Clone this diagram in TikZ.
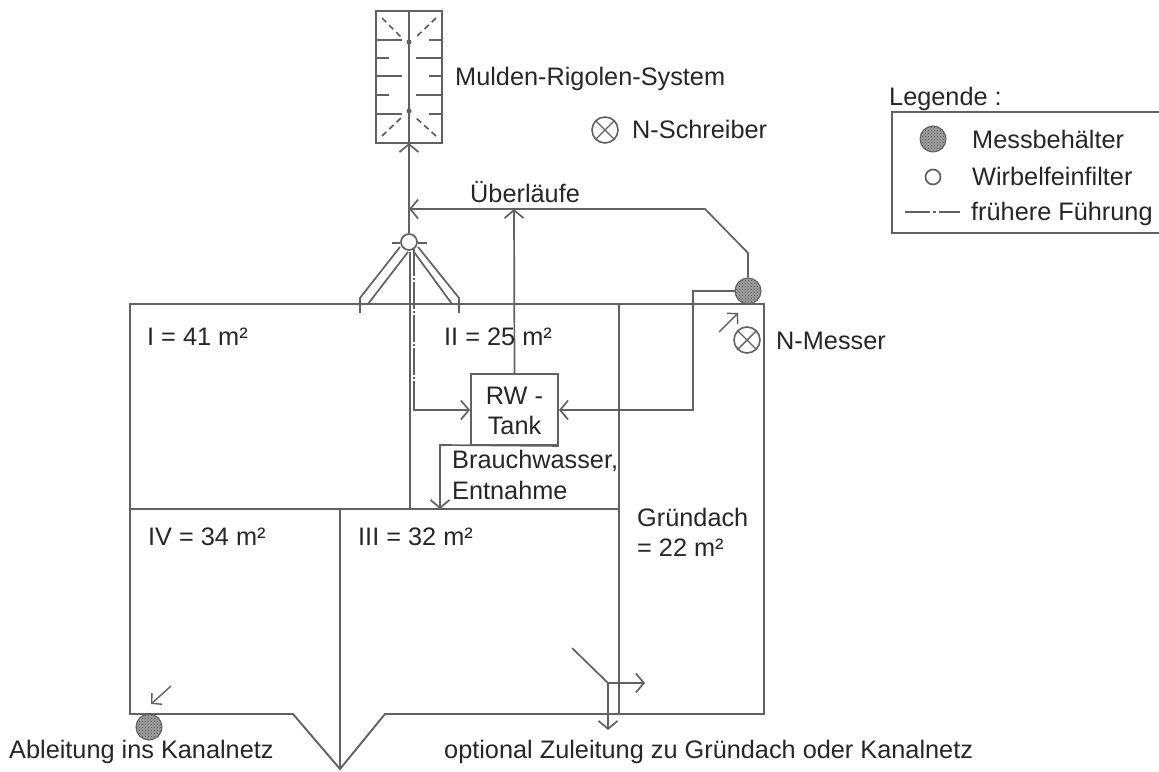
\documentclass[tikz,border=0pt]{standalone}
\usepackage{fontspec}
\setmainfont{Liberation Sans}
\usetikzlibrary{arrows.meta,patterns}
\definecolor{ln}{gray}{0.38}
\tikzset{
  x=1pt,y=-1pt,
  wall/.style={draw=ln,line width=1.9pt},
  pipe/.style={draw=ln,line width=1.7pt},
  flow/.style={pipe,-{Straight Barb[length=8pt,width=19pt,line width=1.7pt]}},
  lab/.style={anchor=base west,inner sep=0pt,font=\fontsize{25.3}{30}\selectfont,text=black!85},
  tankbox/.style={draw=ln,line width=1.9pt,minimum width=87pt,minimum height=71pt,inner sep=0pt},
  mess/.style={circle,draw=ln,line width=1pt,fill=gray!75,minimum size=26pt,inner sep=0pt,postaction={pattern=crosshatch dots,pattern color=black!70}},
  filt/.style={circle,draw=ln,line width=1.7pt,fill=white,minimum size=16pt,inner sep=0pt},
  xmark/.style={circle,draw=ln,line width=1.6pt,minimum size=26pt,inner sep=0pt},
  hint/.style={pipe,line width=1.4pt},
  dashes/.style={pipe,dash pattern=on 6pt off 4pt},
  former/.style={pipe,dash pattern=on 27pt off 2pt on 2pt off 2pt}
}
\newcommand{\xcross}[1]{\draw[pipe,line width=1.4pt] (#1.45)--(#1.225) (#1.135)--(#1.315);}
\begin{document}
\begin{tikzpicture}
\useasboundingbox (0,0) rectangle (1159,771);
% nodes
\node[tankbox] (tank) at (514.5,409.5) {};
\node[lab,anchor=base] (tk1) at (514.5,404) {RW -};
\node[lab,anchor=base] (tk2) at (514.5,434) {Tank};
\node[mess] (m1) at (748,291) {};
\node[mess] (m2) at (149,727) {};
\node[filt] (f) at (409,242) {};
\node[xmark] (nm) at (747,340) {};
\node[xmark] (ns) at (605,130) {};
\coordinate (swT) at (409,143);
% building
\draw[wall] (130,304) -- (764,304) -- (764,714) -- (385,714) -- (340,769) -- (293,714) -- (130,714) -- cycle;
\draw[wall] (130,509) -- (619,509);
\draw[wall] (340,509) -- (340,769);
\draw[wall] (619,304) -- (619,714);
\draw[wall] (410,252) -- (410,509);
% swale
\draw[wall] (376,11) rectangle (442,143);
\draw[pipe] (409,11) -- (409,143);
\foreach \y/\a/\b/\c/\d in {40/402/429/442/376,58/389/416/442/376,76/402/429/442/376,95/389/416/442/376,114/402/429/442/376}{
  \draw[pipe] (\d,\y) -- (\a,\y) (\b,\y) -- (\c,\y);}
\draw[dashes] (382,18) -- (402,38);
\draw[dashes] (436,18) -- (415,38);
\draw[dashes] (382,136) -- (402,117);
\draw[dashes] (436,136) -- (415,117);
\fill[ln] (409,42) circle (2.5pt) (409,111) circle (2.5pt);
% filter and roof inlets
\draw[flow] (f) -- (swT);
\draw[pipe] (392,243) -- (f.west |- 0,243) (f.east |- 0,243) -- (427,243);
\draw[pipe] (400,247) -- (360,298) -- (360,313);
\draw[pipe] (408,252) -- (368,304);
\draw[pipe] (418,247) -- (459,298) -- (459,313);
\draw[pipe] (414,252) -- (452,304);
% overflow
\coordinate (ov) at (409,209);
\draw[flow] (m1) -- (748,253) -- (705,209) -- (ov);
\draw[flow] (tank.north) -- (514,209);
% tank feeds
\draw[former] (414,249) -- (414,382);
\draw[flow] (414,382) -- (414,410) -- (tank.west |- 0,410);
\draw[flow] (m1.west) -- (693,291) -- (693,410) -- (tank.east |- 0,410);
\draw[flow] (tank.south east) -- (440,445) -- (440,509);
% outlets
\draw[hint,-{Straight Barb[length=7pt,width=15pt,line width=1.4pt]}] (171,686) -- (151,704);
\draw[hint,-{Straight Barb[length=7pt,width=15pt,line width=1.4pt]}] (719,332) -- (738,313);
\coordinate (j) at (608,683);
\draw[pipe] (572,648) -- (j);
\draw[flow] (j) -- (645,683);
\draw[flow] (j) -- (608,730);
% cross marks
\xcross{nm}
\xcross{ns}
% labels
\node[lab] (t1) at (455,85) {Mulden-Rigolen-System};
\node[lab] (t2) at (632,138) {N-Schreiber};
\node[lab] (t3) at (470,202) {Überläufe};
\node[lab] (t4) at (147,345) {I = 41 m²};
\node[lab] (t5) at (444,345) {II = 25 m²};
\node[lab] (t6) at (776,349) {N-Messer};
\node[lab] (t7) at (452,468) {Brauchwasser,};
\node[lab] (t8) at (452,499) {Entnahme};
\node[lab] (t9) at (637,526) {Gründach};
\node[lab] (t10) at (637,556) {= 22 m²};
\node[lab] (t11) at (148,545) {IV = 34 m²};
\node[lab] (t12) at (358,545) {III = 32 m²};
\node[lab] (t13) at (9,758) {Ableitung ins Kanalnetz};
\node[lab] (t14) at (444,758) {optional Zuleitung zu Gründach oder Kanalnetz};
% legend
\node[lab] (l0) at (889,105) {Legende :};
\draw[pipe] (1159,112) -- (892,112) -- (892,233) -- (1159,233);
\node[mess] (l1) at (933,139) {};
\node[filt,minimum size=15pt] (l2) at (933,177) {};
\coordinate (l3a) at (905,212);
\coordinate (l3b) at (960,212);
\draw[pipe,line width=2pt,dash pattern=on 25pt off 3pt on 3pt off 3pt] (l3a) -- (l3b);
\node[lab] (l4) at (972,148) {Messbehälter};
\node[lab] (l5) at (972,185) {Wirbelfeinfilter};
\node[lab] (l6) at (971,220) {frühere Führung};
\end{tikzpicture}
\end{document}
